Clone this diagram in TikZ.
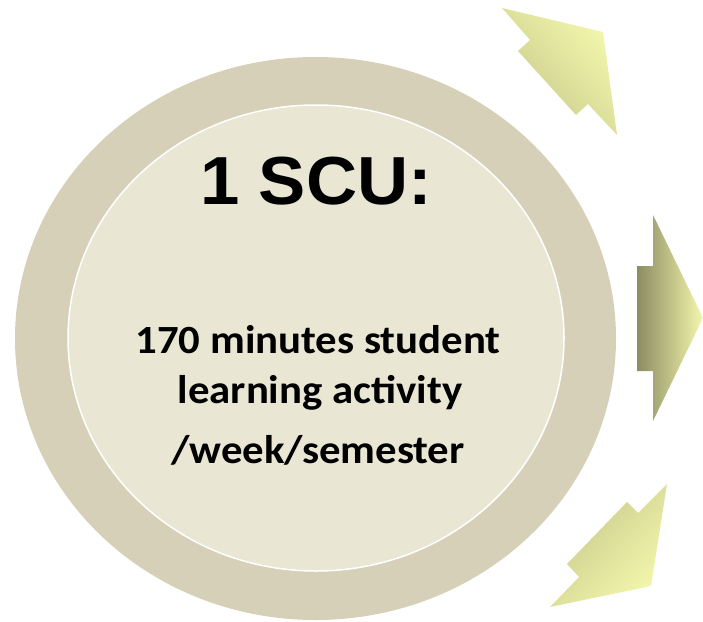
\documentclass[tikz,border=0pt]{standalone}
\usepackage{fontspec}
\newfontfamily\titlefont{Liberation Sans}
\newfontfamily\bodyfont{Carlito}
\usetikzlibrary{shapes.geometric}
\definecolor{RingTan}{RGB}{214,208,184}
\definecolor{CoreCream}{RGB}{233,230,212}
\definecolor{ArrLight}{RGB}{243,247,172}
\definecolor{ArrDark}{RGB}{198,201,138}
\definecolor{ArrOlive}{RGB}{140,141,98}

\begin{document}
\begin{tikzpicture}[
  x=1pt, y=-1pt,
  ring/.style={ellipse, inner sep=0pt, fill=RingTan, minimum width=601pt, minimum height=563pt},
  core/.style={ellipse, inner sep=0pt, fill=CoreCream, draw=white, line width=1.5pt,
               minimum width=496pt, minimum height=466pt},
  title/.style={anchor=base, inner sep=0pt, xscale=1.04, font=\titlefont\bfseries\fontsize{68}{68}\selectfont},
  body/.style={anchor=base, inner sep=0pt, xscale=1.07, font=\bodyfont\bfseries\fontsize{40}{44}\selectfont},
  blockarrow/.style={left color=ArrDark, right color=ArrLight}
]
\useasboundingbox (0,0) rectangle (703,621);
% unit circle
\node[ring] (ring) at (315.5,338.5) {};
\node[core] (core) at (316,338) {};
\node[title] (scu) at (316,204) {1 SCU:};
\node[body] (line1) at (318,353) {170 minutes student};
\node[body] (line2) at (320,403) {learning activity};
\node[body] (line3) at (318,463) {/week/semester};
% outgoing arrows
\shade[blockarrow, shading angle=132] (502,8) -- (603,32) -- (617,135) -- (588,104)
  -- (576,115) -- (518,51) -- (530,40) -- cycle;
\shade[left color=ArrOlive, right color=ArrLight] (637,266) -- (653,266) -- (653,215)
  -- (703,318) -- (653,421) -- (653,371) -- (637,371) -- cycle;
\shade[blockarrow, shading angle=46] (667,484) -- (651,586) -- (550,607) -- (579,577)
  -- (567,564) -- (627,502) -- (638,513) -- cycle;
\end{tikzpicture}
\end{document}
